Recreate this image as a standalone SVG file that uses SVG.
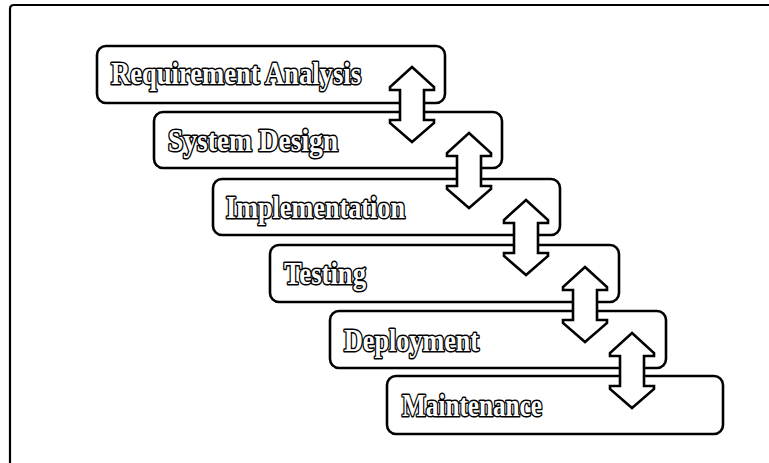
<svg xmlns="http://www.w3.org/2000/svg" width="769" height="463" viewBox="0 0 769 463">
  <style>
    .box { fill: #ffffff; stroke: #000000; stroke-width: 2.6; }
    .lbl { font-family: "Liberation Serif", "Times New Roman", serif; font-weight: bold; fill: #ffffff; stroke: #000000; stroke-width: 3; paint-order: stroke; stroke-linejoin: round; }
    .arr { fill: #ffffff; stroke: #000000; stroke-width: 2.6; stroke-linejoin: miter; }
    .frame { fill: none; stroke: #000000; stroke-width: 2.2; }
  </style>
  <defs>
    <path id="dblArrow" d="M0,0 L22,20 L22,23 L12,23 L12,53 L22,53 L22,56 L0,75 L-22,56 L-22,53 L-12,53 L-12,23 L-22,23 L-22,20 Z"/>
  </defs>
  <rect width="769" height="463" fill="#ffffff"/>
  <path class="frame" d="M10,463 L10,9 Q10,5 14,5 L769,5"/>

  <g id="node-requirement-analysis">
    <rect class="box" x="97" y="46" width="348" height="57" rx="9"/>
    <text class="lbl" font-size="31" x="111" y="84" textLength="250" lengthAdjust="spacingAndGlyphs">Requirement Analysis</text>
  </g>
  <g id="node-system-design">
    <rect class="box" x="154" y="112" width="348" height="56" rx="9"/>
    <text class="lbl" font-size="31" x="168" y="151" textLength="170" lengthAdjust="spacingAndGlyphs">System Design</text>
  </g>
  <g id="node-implementation">
    <rect class="box" x="213" y="179" width="347" height="56" rx="9"/>
    <text class="lbl" font-size="31" x="226" y="218" textLength="179" lengthAdjust="spacingAndGlyphs">Implementation</text>
  </g>
  <g id="node-testing">
    <rect class="box" x="270" y="245" width="349" height="57" rx="9"/>
    <text class="lbl" font-size="31" x="284" y="284" textLength="82" lengthAdjust="spacingAndGlyphs">Testing</text>
  </g>
  <g id="node-deployment">
    <rect class="box" x="330" y="311" width="336" height="57" rx="9"/>
    <text class="lbl" font-size="31" x="344" y="351" textLength="135" lengthAdjust="spacingAndGlyphs">Deployment</text>
  </g>
  <g id="node-maintenance">
    <rect class="box" x="387" y="376" width="336" height="58" rx="9"/>
    <text class="lbl" font-size="31" x="402" y="416" textLength="140" lengthAdjust="spacingAndGlyphs">Maintenance</text>
  </g>

  <g id="connectors">
    <use href="#dblArrow" class="arr" x="412" y="67"/>
    <use href="#dblArrow" class="arr" x="469" y="133"/>
    <use href="#dblArrow" class="arr" x="526" y="200"/>
    <use href="#dblArrow" class="arr" x="585" y="267"/>
    <use href="#dblArrow" class="arr" x="632" y="333"/>
  </g>
</svg>
